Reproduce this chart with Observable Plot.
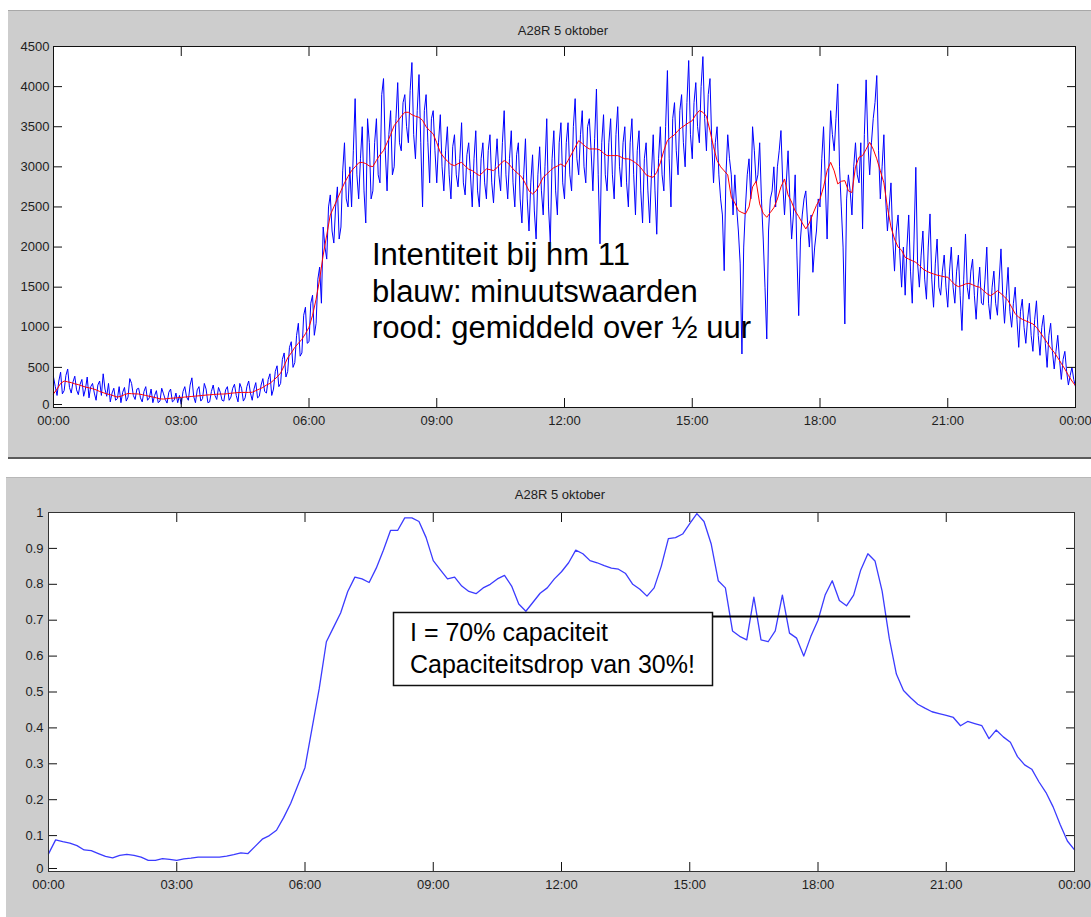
<!DOCTYPE html>
<html>
<head>
<meta charset="utf-8">
<script src="https://cdn.jsdelivr.net/npm/d3@7"></script>
<script src="https://cdn.jsdelivr.net/npm/@observablehq/plot@0.6"></script>
<style>
  html, body { margin: 0; padding: 0; background: #fff; }
  body { width: 1091px; height: 917px; overflow: hidden; position: relative; font-family: "Liberation Sans", Arial, sans-serif; }
  .panel { position: absolute; background: #cdcdcd; }
  .abs { position: absolute; left: 0; }
  svg { display: block; }
</style>
</head>
<body>
<div class="panel" style="left:8px;top:10px;width:1083px;height:446px;border-top:1px solid #a8a8a8;border-bottom:2px solid #5a5a5a;"></div>
<div class="panel" style="left:6px;top:477px;width:1085px;height:440px;border-top:1px solid #b8b8b8;"></div>
<div id="top" class="abs" style="top:0px;"></div>
<div id="bottom" class="abs" style="top:458px;"></div>
<div id="overlay" class="abs" style="top:0px;"></div>
<script>
// ---------- data ----------
const chartTitle = "A28R 5 oktober";
const xTicks = [0, 180, 360, 540, 720, 900, 1080, 1260, 1440];          // minutes of the day
const xTickLabels = ["00:00", "03:00", "06:00", "09:00", "12:00", "15:00", "18:00", "21:00", "00:00"];
const yTicksTop = [0, 500, 1000, 1500, 2000, 2500, 3000, 3500, 4000, 4500];
const yTicksBottom = [0, 0.1, 0.2, 0.3, 0.4, 0.5, 0.6, 0.7, 0.8, 0.9, 1];

// blauw: minuutswaarden, readings on the 5-minute marks (00:00 .. 24:00)
const blueStep = 5;
const blueValues = [
  380, 150, 440, 210, 480, 180, 390, 160, 350, 230, 120, 300,
  90, 330, 420, 140, 70, 240, 110, 60, 250, 130, 300, 100,
  240, 70, 260, 120, 60, 210, 80, 170, 55, 230, 90, 60,
  40, 260, 90, 370, 60, 260, 110, 230, 70, 280, 100, 190,
  80, 260, 130, 290, 70, 240, 120, 330, 90, 310, 140, 360,
  180, 420, 230, 520, 300, 680, 450, 820, 560, 1050, 680, 1250,
  820, 1400, 1050, 1750, 2250, 1850, 2650, 2050, 2750, 2250, 3300, 2500,
  2500, 3850, 2600, 3500, 2300, 3300, 2700, 3600, 2800, 4100, 2700, 3700,
  3000, 4050, 3200, 3900, 3300, 4300, 3100, 4150, 2500, 3900, 2800, 3700,
  2800, 3650, 2700, 3500, 2600, 3400, 2750, 3550, 2650, 3300, 2500, 3450,
  2500, 3300, 2600, 3400, 2550, 3350, 2700, 3700, 2600, 3450, 2500, 3300,
  2300, 3350, 2200, 3150, 2100, 3250, 2400, 3600, 2060, 3450, 2400, 3550,
  2600, 3550, 2700, 3850, 2900, 3700, 2800, 3600, 2700, 3970, 2040, 3650,
  2700, 3600, 2600, 3750, 2750, 3500, 2500, 3600, 2400, 3450, 2300, 3300,
  2300, 3400, 2160, 3500, 2700, 4200, 2500, 3800, 2900, 3900, 3000, 4325,
  3100, 4050, 3300, 4374, 3200, 4100, 2800, 3500, 2600, 1706, 3400, 2900,
  2900, 2200, 667, 2500, 3100, 3500, 2800, 3300, 2100, 854, 2600, 3000,
  3000, 3452, 2400, 3200, 2100, 2900, 1145, 2400, 2700, 2000, 1685, 2200,
  2500, 3500, 2100, 3700, 3200, 4034, 2500, 1041, 2900, 2400, 3300, 2800,
  2226, 4084, 2900, 3600, 4138, 2600, 3400, 2200, 2800, 1700, 2400, 1500,
  1400, 2400, 1300, 2994, 1500, 2200, 1350, 2413, 1250, 2100, 1400, 1900,
  1250, 2000, 1300, 1900, 960, 2163, 1350, 1850, 1100, 1750, 1280, 2000,
  1100, 1700, 1150, 1977, 1050, 1747, 1000, 1500, 750, 1350, 800, 1300,
  700, 1330, 650, 1150, 500, 1050, 480, 900, 350, 700, 280, 500,
  260
];
// blauw: readings half-way between the 5-minute marks (00:02.5 .. 23:57.5)
const blueMidOffset = 2.5;
const blueMidValues = [
  260, 330, 170, 400, 250, 320, 220, 290, 140, 380, 260, 180,
  280, 150, 230, 300, 180, 90, 260, 190, 80, 360, 150, 230,
  120, 200, 90, 230, 150, 60, 240, 100, 190, 70, 180, 150,
  200, 130, 280, 140, 220, 80, 300, 60, 200, 150, 250, 90,
  220, 90, 240, 150, 300, 80, 260, 180, 230, 120, 280, 200,
  350, 150, 450, 260, 600, 380, 750, 500, 900, 640, 1150, 800,
  1300, 900, 1600, 1300, 2000, 2500, 2200, 2500, 2100, 2950, 2600, 3000,
  3200, 2900, 3100, 2700, 3600, 2600, 3300, 2900, 3900, 3200, 3400, 2900,
  3600, 3300, 3800, 3500, 3950, 3400, 3700, 3300, 3700, 3300, 3600, 3200,
  3300, 3000, 3200, 2900, 3250, 2900, 3100, 2800, 3150, 2900, 3100, 2700,
  3100, 2800, 3200, 2800, 3000, 2900, 3300, 2900, 3100, 2800, 3150, 2600,
  2900, 2600, 2800, 2450, 2900, 2700, 3000, 2500, 3100, 2700, 3300, 2800,
  3300, 2900, 3500, 3100, 3400, 3000, 3500, 3200, 3350, 2900, 3300, 2900,
  3300, 2900, 3400, 3000, 3300, 2800, 3300, 2900, 3200, 2700, 3100, 2700,
  2900, 2700, 3100, 2900, 3500, 3100, 3600, 3200, 3700, 3300, 3800, 3400,
  3800, 3500, 4000, 3600, 3900, 3300, 3300, 2900, 2400, 2900, 3100, 2400,
  2500, 1800, 2000, 2900, 2600, 3200, 2900, 2600, 1500, 2200, 2700, 2500,
  3200, 2800, 2800, 2600, 2400, 1900, 2100, 2600, 2300, 2400, 2000, 2600,
  3100, 2800, 3000, 3400, 3600, 3000, 2000, 2600, 2700, 3000, 2900, 3300,
  3400, 3300, 3300, 3800, 3200, 3000, 2600, 2500, 2100, 2200, 1900, 2000,
  2000, 1700, 2100, 1800, 1900, 1600, 2000, 1600, 1800, 1500, 1700, 1500,
  1700, 1500, 1700, 1400, 1600, 1500, 1700, 1400, 1500, 1300, 1600, 1300,
  1500, 1300, 1600, 1400, 1400, 1200, 1300, 1100, 1200, 1000, 1100, 900,
  1100, 900, 1000, 800, 900, 700, 700, 600, 600, 450, 400, 350
];

// rood: gemiddeld over ½ uur (every 5 minutes)
const redStep = 5;
const redValues = [
  170, 230, 300, 330, 320, 310, 295, 285, 270, 255, 245, 235,
  220, 200, 185, 170, 160, 145, 130, 140, 160, 175, 172, 170,
  168, 160, 150, 140, 130, 120, 108, 105, 110, 115, 118, 122,
  126, 130, 134, 138, 142, 146, 150, 155, 158, 162, 165, 168,
  168, 172, 178, 182, 186, 188, 188, 188, 190, 210, 230, 250,
  280, 300, 340, 380, 430, 520, 620, 680, 750, 800, 850, 920,
  1000, 1150, 1350, 1600, 1900, 2150, 2400, 2500, 2600, 2700, 2800, 2880,
  2953, 3000, 3050, 3056, 3040, 3010, 3003, 3080, 3150, 3202, 3300, 3400,
  3514, 3570, 3630, 3680, 3680, 3650, 3630, 3617, 3580, 3500, 3450, 3411,
  3300, 3180, 3119, 3070, 3030, 3015, 3040, 3056, 3010, 2970, 2953, 2920,
  2891, 2930, 2974, 2965, 2953, 2990, 3040, 3078, 3050, 3000, 2950, 2912,
  2870, 2790, 2700, 2662, 2700, 2780, 2870, 2910, 2953, 2990, 3010, 3036,
  3003, 3080, 3160, 3243, 3327, 3290, 3250, 3223, 3223, 3223, 3210, 3170,
  3140, 3140, 3140, 3140, 3120, 3100, 3099, 3080, 3050, 3015, 2960, 2900,
  2880, 2870, 2932, 3050, 3202, 3330, 3368, 3400, 3452, 3490, 3520, 3550,
  3576, 3650, 3701, 3680, 3630, 3450, 3250, 3078, 3000, 2950, 2900, 2620,
  2550, 2454, 2430, 2413, 2500, 2750, 2820, 2538, 2420, 2371, 2430, 2490,
  2600, 2750, 2849, 2650, 2560, 2450, 2380, 2300, 2226, 2300, 2413, 2520,
  2600, 2750, 2950, 3056, 2950, 2787, 2820, 2828, 2700, 2680, 3000, 3120,
  3140, 3220, 3306, 3220, 3100, 2950, 2800, 2495, 2250, 2100, 2000, 1960,
  1872, 1850, 1830, 1809, 1770, 1727, 1700, 1680, 1665, 1650, 1640, 1630,
  1623, 1580, 1530, 1507, 1520, 1540, 1548, 1530, 1510, 1498, 1460, 1420,
  1394, 1420, 1456, 1420, 1380, 1332, 1250, 1170, 1124, 1100, 1080, 1061,
  1041, 1000, 940, 874, 810, 740, 687, 620, 550, 480, 400, 330,
  272
];

// relative intensity (every 10 minutes)
const relStep = 10;
const relValues = [
  0.049, 0.088, 0.083, 0.079, 0.072, 0.06,
  0.058, 0.05, 0.042, 0.038, 0.045, 0.048,
  0.045, 0.04, 0.031, 0.031, 0.036, 0.034,
  0.031, 0.035, 0.037, 0.04, 0.04, 0.04,
  0.04, 0.043, 0.047, 0.052, 0.05, 0.07,
  0.09, 0.1, 0.115, 0.15, 0.19, 0.24,
  0.29, 0.4, 0.51, 0.64, 0.68, 0.72,
  0.78, 0.82, 0.815, 0.805, 0.845, 0.895,
  0.95, 0.95, 0.985, 0.985, 0.975, 0.93,
  0.866, 0.84, 0.815, 0.82, 0.795, 0.78,
  0.774, 0.79, 0.8, 0.815, 0.825, 0.795,
  0.745, 0.725, 0.75, 0.775, 0.79, 0.815,
  0.835, 0.86, 0.895, 0.885, 0.866, 0.86,
  0.852, 0.845, 0.842, 0.83, 0.8, 0.786,
  0.767, 0.79, 0.85, 0.927, 0.93, 0.94,
  0.969, 0.997, 0.975, 0.913, 0.81, 0.79,
  0.67, 0.655, 0.645, 0.764, 0.645, 0.64,
  0.67, 0.77, 0.664, 0.65, 0.6, 0.655,
  0.70, 0.77, 0.81, 0.755, 0.74, 0.77,
  0.84, 0.885, 0.865, 0.781, 0.65, 0.55,
  0.504, 0.484, 0.466, 0.455, 0.445, 0.44,
  0.435, 0.429, 0.406, 0.418, 0.412, 0.406,
  0.37, 0.394, 0.375, 0.36, 0.32, 0.297,
  0.285, 0.25, 0.22, 0.18, 0.13, 0.085,
  0.06
];

const capacityLevel = 0.71;          // "I = 70% capaciteit" line
const capacitySpan = [630, 1210];    // minutes, start (behind the box) and end of that line

const annotationTop = ["Intentiteit bij hm 11", "blauw: minuutswaarden", "rood: gemiddeld over \u00bd uur"];
const annotationBottom = ["I = 70% capaciteit", "Capaciteitsdrop van 30%!"];

// ---------- tables ----------
const blueRows = d3.sort([
  ...blueValues.map((v, i) => ({t: i * blueStep, v})),
  ...blueMidValues.map((v, i) => ({t: blueMidOffset + i * blueStep, v}))
], d => d.t);
const redRows = redValues.map((v, i) => ({t: i * redStep, v}));
const relRows = relValues.map((v, i) => ({t: i * relStep, v}));

const fontFamily = '"Liberation Sans", Arial, sans-serif';
const xLabel = d => xTickLabels[xTicks.indexOf(d)] ?? "";
const baseStyle = {background: "transparent", fontFamily, fontSize: "13px", color: "#111", overflow: "visible"};

function axes(yTicks, yFormat, padX, padY) {
  return [
    // labels of all y ticks but the lowest, then the lowest one nudged up a little
    Plot.axisY({anchor: "left", ticks: yTicks.slice(1), tickSize: -9, tickPadding: padY, label: null, tickFormat: yFormat, fill: "#1e1e1e"}),
    Plot.axisY({anchor: "left", ticks: yTicks.slice(0, 1), tickSize: -9, tickPadding: padY, label: null, tickFormat: yFormat, fill: "#1e1e1e", dy: -3}),
    Plot.axisY({anchor: "right", ticks: yTicks, tickSize: -9, tickFormat: () => "", label: null}),
    Plot.axisX({anchor: "bottom", ticks: xTicks, tickSize: -9, tickPadding: padX, label: null, tickFormat: xLabel, fill: "#1e1e1e"}),
    Plot.axisX({anchor: "top", ticks: xTicks, tickSize: -9, tickFormat: () => "", label: null})
  ];
}

const topChart = Plot.plot({
  width: 1091, height: 458,
  marginLeft: 53, marginRight: 16, marginTop: 46, marginBottom: 51,
  style: baseStyle,
  x: {type: "linear", domain: [0, 1440]},
  y: {type: "linear", domain: [0, 4500]},
  marks: [
    Plot.frame({fill: "white"}),
    Plot.line(blueRows, {x: "t", y: "v", stroke: "#0000ff", strokeWidth: 1}),
    Plot.line(redRows, {x: "t", y: "v", stroke: "#ff0000", strokeWidth: 1}),
    ...axes(yTicksTop, d => String(d), 17, 13),
    Plot.frame({stroke: "#111", strokeWidth: 1})
  ]
});
document.getElementById("top").appendChild(topChart);

const bottomChart = Plot.plot({
  width: 1091, height: 459,
  marginLeft: 48, marginRight: 17, marginTop: 54, marginBottom: 46,
  style: baseStyle,
  x: {type: "linear", domain: [0, 1440]},
  y: {type: "linear", domain: [0, 1]},
  marks: [
    Plot.frame({fill: "white"}),
    Plot.line(relRows, {x: "t", y: "v", stroke: "#3b3bff", strokeWidth: 1.3}),
    Plot.ruleY([capacityLevel], {x1: capacitySpan[0], x2: capacitySpan[1], stroke: "#000", strokeWidth: 2}),
    ...axes(yTicksBottom, d => String(d), 17, 14),
    Plot.frame({stroke: "#333", strokeWidth: 1})
  ]
});
document.getElementById("bottom").appendChild(bottomChart);

// ---------- overlay texts ----------
const ov = d3.select("#overlay").append("svg")
  .attr("width", 1091).attr("height", 917)
  .style("font-family", fontFamily);

ov.append("text").attr("x", 563).attr("y", 34.5).attr("text-anchor", "middle")
  .attr("font-size", 13).attr("fill", "#1e1e1e").text(chartTitle);
ov.append("text").attr("x", 560).attr("y", 498.5).attr("text-anchor", "middle")
  .attr("font-size", 13).attr("fill", "#1e1e1e").text(chartTitle);

annotationTop.forEach((s, i) => {
  ov.append("text").attr("x", 372).attr("y", 265 + i * 36.5)
    .attr("font-size", 31).attr("fill", "#000").text(s);
});

ov.append("rect").attr("x", 393.5).attr("y", 612.5).attr("width", 319).attr("height", 73)
  .attr("fill", "#fff").attr("stroke", "#111").attr("stroke-width", 1.5);
annotationBottom.forEach((s, i) => {
  ov.append("text").attr("x", 410).attr("y", 641 + i * 32)
    .attr("font-size", 25).attr("fill", "#000").text(s);
});
</script>
</body>
</html>
